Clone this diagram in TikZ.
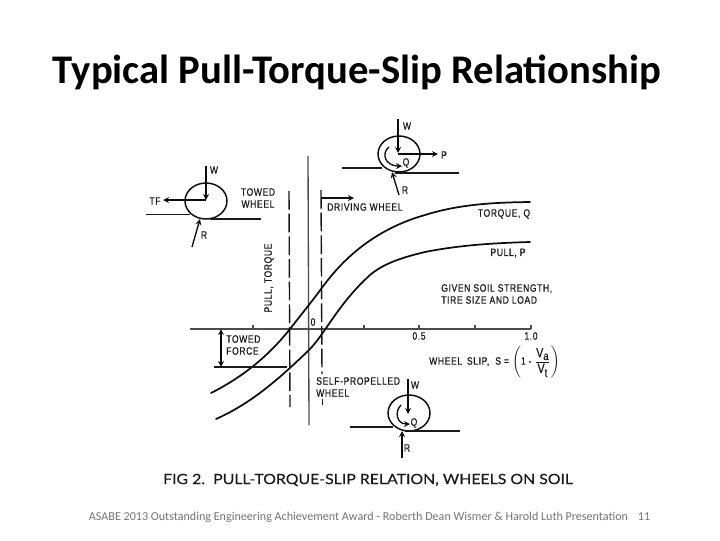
\documentclass[tikz,border=0pt]{standalone}
\usepackage{fontspec}
\usepackage{amsmath}
\setmainfont{Carlito}
\newfontfamily\figfont[FakeStretch=0.8,LetterSpace=6,FakeBold=0.6]{Liberation Sans}
\newfontfamily\capfont[FakeStretch=1.12,FakeBold=0.25]{Lato}
\usetikzlibrary{arrows}
\usetikzlibrary{math}
\usetikzlibrary{calc}

\newcommand{\slipv}[1]{\text{\fontsize{10}{10}\selectfont V}_{\text{\fontsize{9}{9}\selectfont #1}}}

\tikzset{
  lbl/.style={font=\figfont\fontsize{8}{9}\selectfont, inner sep=0pt, align=left, text=black!90},
  axisline/.style={line width=1.0pt, black!70},
  curveline/.style={line width=1.3pt, black!95, line cap=round},
  guide/.style={line width=1.05pt, black!90, dash pattern=on 14pt off 3pt},
  groundline/.style={line width=0.95pt, black!90},
  wheelline/.style={line width=1.1pt, black!95},
  force/.style={line width=1.0pt, black!95, -stealth}
}

\begin{document}
\begin{tikzpicture}[x=0.75pt,y=-0.75pt]

  \tikzmath{
    \rx = 21;   % horizontal radius of a wheel
    \ry = 18;   % vertical radius of a wheel
    \ax = 329;  % height of the slip axis
    \tk = 4;    % length of the ticks
  }

  \useasboundingbox (0,0) rectangle (720,540);

  % Title and footer
  \node[font=\fontsize{30.5}{33}\selectfont\bfseries, inner sep=0pt] (title) at (357,72)
    {Typical Pull-Torque-Slip Relationship};
  \node[font=\capfont\fontsize{10.6}{12}\selectfont, inner sep=0pt, text=black!90] (caption) at (368,480)
    {FIG 2.\ \ PULL-TORQUE-SLIP RELATION, WHEELS ON SOIL};
  \node[font=\fontsize{9.07}{11}\selectfont, inner sep=0pt, text=black!55] (footer) at (358.5,517)
    {ASABE 2013 Outstanding Engineering Achievement Award - Roberth Dean Wismer \& Harold Luth Presentation};
  \node[font=\fontsize{9.07}{11}\selectfont, inner sep=0pt, text=black!55] (pagenum) at (644,517) {11};

  % Axes of the chart
  \coordinate (axisL) at (190,\ax);
  \coordinate (axisR) at (531,\ax);
  \coordinate (axisT) at (308,156);
  \coordinate (axisB) at (309,425);
  \draw[axisline] (axisL) -- (axisR);
  \draw[axisline] (axisT) -- (axisB);
  \foreach \xtick in {253,364,419,475,531}
    \draw[axisline] (\xtick,\ax) -- (\xtick,\ax-\tk);

  % Limits of the towed and the driving range
  \coordinate (limTopA) at (289,191);
  \coordinate (limBotA) at (290,407);
  \coordinate (limTopB) at (321,190);
  \coordinate (limMidB) at (322,374);
  \coordinate (limLowB) at (322.5,399);
  \coordinate (limBotB) at (322.5,405);
  \draw[guide] (limTopA) -- (limBotA);
  \draw[guide] (limTopB) -- (limMidB);
  \draw[guide] (limLowB) -- (limBotB);

  % Torque and pull curves
  \draw[curveline] (211,393) .. controls (245,376) and (270,354) .. (290,329)
    .. controls (300,316) and (310,304) .. (321,289)
    .. controls (335,270) and (365,232) .. (425,215)
    .. controls (460,204) and (495,202.5) .. (530,202);
  \draw[curveline] (216,419) .. controls (250,404) and (278,380) .. (309,350)
    .. controls (325,334) and (338,304) .. (370,275)
    .. controls (384,263) and (404,257) .. (425,252)
    .. controls (460,245) and (495,243) .. (530,242);

  % Towed force
  \coordinate (towTop) at (221,\ax);
  \coordinate (towBot) at (221,367);
  \coordinate (towL) at (214,367);
  \coordinate (towR) at (287,367);
  \draw[force, stealth-stealth] (towTop) -- (towBot);
  \draw[groundline] (towL) -- (towR);

  % Driving wheel range
  \coordinate (driveA) at (321,198);
  \coordinate (driveB) at (354,198);
  \draw[force] (driveA) -- (driveB);

  % Towed wheel
  \coordinate (wheelA) at (206,201);
  \draw[wheelline] (wheelA) ellipse [x radius=\rx, y radius=\ry];
  \draw[groundline] (146,214.5) -- (190,214.5);
  \draw[groundline] (210,219) -- (261,219);
  \draw[force] (206,166) -- (206,200);
  \draw[force] (206,200) -- (163,200);
  \draw[force] (192,247) -- (200,219);

  % Driving wheel
  \coordinate (wheelB) at (399,154);
  \draw[wheelline] (wheelB) ellipse [x radius=\rx, y radius=\ry];
  \draw[groundline] (342,168) -- (382,168);
  \draw[groundline] (395,173) -- (459,173);
  \draw[force] (398,119) -- (398,153);
  \draw[force] (398,154) -- (438,154);
  \draw[force] (399,195) -- (392,172);
  \draw[force] (389,147) .. controls (381,153) and (385,166) .. (402,166);

  % Self-propelled wheel
  \coordinate (wheelC) at (409,413);
  \draw[wheelline] (wheelC) ellipse [x radius=\rx, y radius=\ry];
  \draw[groundline] (350,427) -- (393,427);
  \draw[groundline] (405,431) -- (460,431);
  \draw[force] (408,379) -- (408,414);
  \draw[force] (402,458) -- (402,431);
  \draw[force] (401,405) .. controls (394,412) and (397,424) .. (410,424);

  % Labels of the towed wheel
  \node[lbl] (lblW) at (214,170) {W};
  \node[lbl] (lblTF) at (155,201) {TF};
  \node[lbl] (lblR) at (204,235) {R};
  \node[lbl, align=center] (lblTowed) at (258,198) {TOWED\\WHEEL};

  % Labels of the driving wheel
  \node[lbl] (lblWb) at (407,126) {W};
  \node[lbl] (lblQb) at (406,163) {Q};
  \node[lbl] (lblP) at (444,155) {P};
  \node[lbl] (lblRb) at (405,190) {R};
  \node[lbl, anchor=west] (lblDrive) at (327,207) {DRIVING WHEEL};

  % Labels of the self-propelled wheel
  \node[lbl] (lblWc) at (415,385) {W};
  \node[lbl] (lblQc) at (414,423) {Q};
  \node[lbl] (lblRc) at (407,448) {R};
  \node[lbl, anchor=west] (lblSelf) at (316,387) {SELF-PROPELLED\\WHEEL};

  % Labels of the chart
  \node[lbl, rotate=90] (lblAxis) at (269,278) {PULL, TORQUE};
  \node[lbl] (lblZero) at (313,322) {0};
  \node[lbl] (lblHalf) at (419,336) {0.5};
  \node[lbl] (lblOne) at (531,336) {1.0};
  \node[lbl] (lblTorque) at (504,214) {TORQUE, Q};
  \node[lbl] (lblPull) at (508,253) {PULL, P};
  \node[lbl, anchor=west] (lblGiven) at (441,294) {GIVEN SOIL STRENGTH,\\TIRE SIZE AND LOAD};
  \node[lbl, anchor=west] (lblForce) at (226,345) {TOWED\\FORCE};
  \node[lbl, anchor=west] (lblSlip) at (429,362)
    {WHEEL\ \,SLIP,\ \ S\ =\ $\left(\text{1 - }\dfrac{\slipv{a}}{\slipv{t}}\right)$};

\end{tikzpicture}
\end{document}
